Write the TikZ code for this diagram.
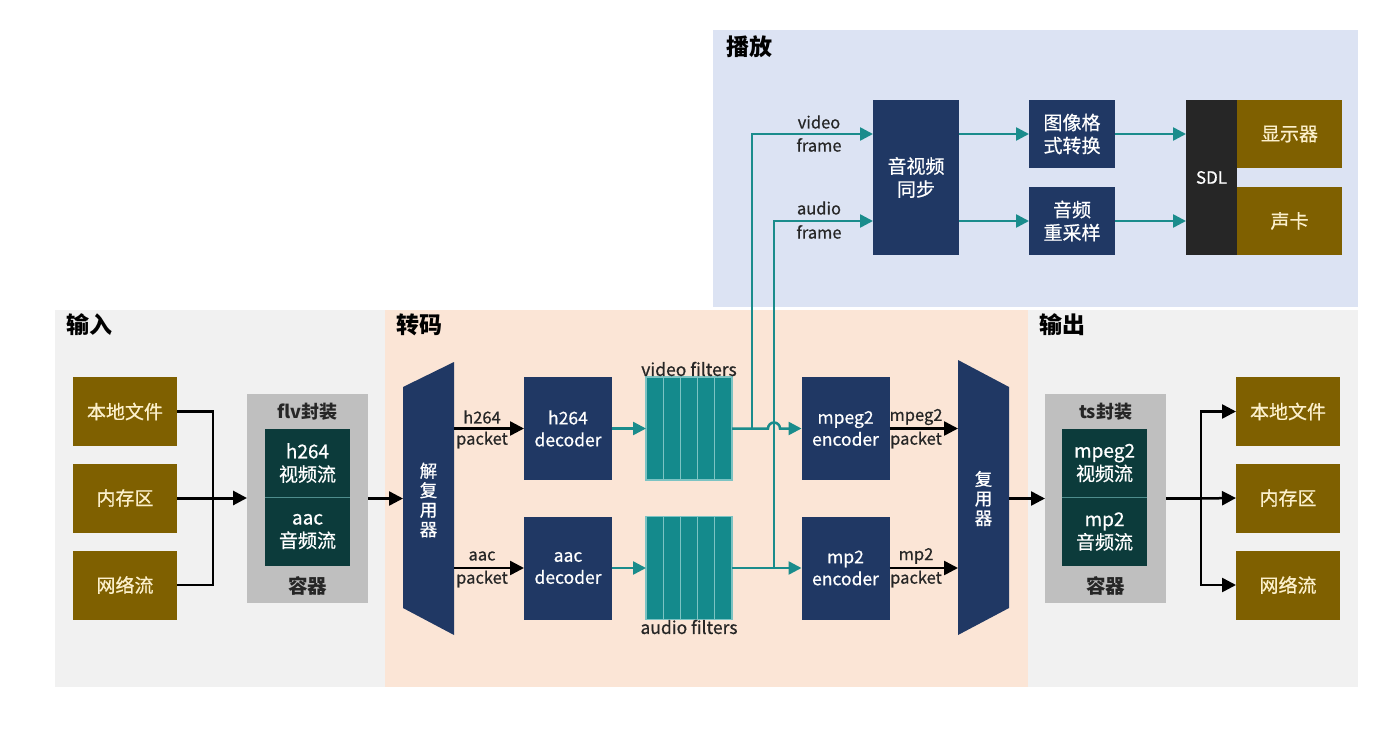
\documentclass[tikz,border=0pt]{standalone}
\usepackage{fontspec}
\setmainfont{Noto Sans CJK SC}
\newfontfamily\medfont{Noto Sans CJK SC}[FakeBold=0.6]
\usetikzlibrary{arrows.meta}
\definecolor{navyc}{HTML}{203864}
\definecolor{brownc}{HTML}{7F6000}
\definecolor{creamc}{HTML}{FCF0CC}
\definecolor{tealc}{HTML}{148A8C}
\definecolor{tealline}{HTML}{1A8C8C}
\definecolor{sepc}{HTML}{7CC3C3}
\definecolor{darkteal}{HTML}{0C3B3B}
\definecolor{grayc}{HTML}{BFBFBF}
\definecolor{regiongray}{HTML}{F1F1F1}
\definecolor{peachc}{HTML}{FBE5D6}
\definecolor{bluec}{HTML}{DCE3F3}
\definecolor{sdlc}{HTML}{262626}
\begin{document}
\begin{tikzpicture}[x=1pt,y=-1pt,
  box/.style={inner sep=0pt, outer sep=0pt, align=center, font=\medfont\fontsize{19}{23}\selectfont},
  brownbox/.style={box, fill=brownc, text=creamc, minimum width=104pt, minimum height=69pt},
  navybox/.style={box, fill=navyc, text=white},
  dec/.style={navybox, minimum width=88pt, minimum height=103pt, font=\medfont\fontsize{17.5}{22}\selectfont},
  cont/.style={inner sep=0pt, outer sep=0pt, fill=grayc, minimum width=121pt, minimum height=209pt},
  inner/.style={box, fill=darkteal, text=white, minimum width=85pt, minimum height=68pt, font=\medfont\fontsize{19}{23}\selectfont},
  strip/.style={inner sep=0pt, outer sep=0pt, fill=tealc, draw=sepc, line width=1.3pt, minimum width=17.2pt, minimum height=103pt},
  title/.style={anchor=west, inner sep=0pt, font=\fontsize{23}{27}\selectfont\bfseries},
  lbl/.style={inner sep=0pt, font=\medfont\fontsize{16.5}{19}\selectfont, text=black!85},
  ctitle/.style={inner sep=0pt, font=\fontsize{18}{21}\selectfont\bfseries, text=black!85},
  bline/.style={draw=black, line width=2.5pt},
  blk/.style={bline, -{Triangle[length=14pt,width=14pt]}},
  tline/.style={draw=tealline, line width=2.5pt},
  tla/.style={tline, -{Triangle[length=13pt,width=13pt]}}
]
\useasboundingbox (0,0) rectangle (1380,728);
\fill[white] (0,0) rectangle (1380,728);
% regions
\fill[bluec] (713,30) rectangle (1358,307);
\fill[regiongray] (55,310) rectangle (385,687);
\fill[peachc] (385,310) rectangle (1028,687);
\fill[regiongray] (1028,310) rectangle (1358,687);
\node[title] (tin) at (66,325) {输入};
\node[title] (ttr) at (396,325) {转码};
\node[title] (tplay) at (726,47) {播放};
\node[title] (tout) at (1039,325) {输出};

% input boxes
\node[brownbox] (i1) at (125,411.5) {本地文件};
\node[brownbox] (i2) at (125,498) {内存区};
\node[brownbox] (i3) at (125,585) {网络流};
% flv container
\node[cont] (flv) at (307.5,498.5) {};
\node[ctitle] (flvt) at (307.5,412) {flv封装};
\node[inner] (flvv) at (307.5,463) {h264\\视频流};
\node[inner] (flva) at (307.5,531.5) {aac\\音频流};
\draw[sepc!60!darkteal, line width=0.8pt] (flvv.south west) -- (flvv.south east);
\node[ctitle, font=\fontsize{19.5}{22}\selectfont\bfseries] (flvc) at (307.5,586) {容器};
\coordinate (ij) at (213,498);
\draw[bline] (i1.east) -| (ij);
\draw[bline] (i3.east) -| (ij);
\draw[blk, line width=3pt] (i2.east) -- (flv.west |- i2.east);

% demux
\fill[navyc] (403,387) -- (454,362) -- (454,635) -- (403,608) -- cycle;
\node[inner sep=0pt, text=white, align=center, font=\medfont\fontsize{17.5}{19.5}\selectfont] (demux) at (428.5,500) {解\\复\\用\\器};
\coordinate (dmL) at (403,498.5);
\coordinate (dmR1) at (454,428.5);
\coordinate (dmR2) at (454,568);
\draw[blk] (flv.east |- dmL) -- (dmL);

% decoders
\node[dec] (dec1) at (568,428.5) {h264\\decoder};
\node[dec] (dec2) at (568,568) {aac\\decoder};
\draw[blk] (dmR1) -- (dec1.west);
\draw[blk] (dmR2) -- (dec2.west);
\node[lbl] (l1a) at (482,417) {h264};
\node[lbl] (l1b) at (482,440) {packet};
\node[lbl] (l2a) at (482,556) {aac};
\node[lbl] (l2b) at (482,579) {packet};

% filters
\foreach \i in {0,...,4}{
  \node[strip] (vf\i) at ({646+17.2*\i+8.6},428.5) {};
  \node[strip] (af\i) at ({646+17.2*\i+8.6},568) {};
}
\node[lbl, font=\medfont\fontsize{17.5}{20}\selectfont] (vft) at (689,369) {video filters};
\node[lbl, font=\medfont\fontsize{17.5}{20}\selectfont] (aft) at (689,627) {audio filters};
\draw[tla] (dec1.east) -- (vf0.west);
\draw[tla] (dec2.east) -- (af0.west);

% encoders
\node[dec] (enc1) at (845.5,428.5) {mpeg2\\encoder};
\node[dec] (enc2) at (845.5,568) {mp2\\encoder};
\coordinate (hopL) at (768,428.5);
\draw[tla] (vf4.east) -- (hopL) arc[start angle=180,end angle=0,radius=6pt] -- (enc1.west);
\draw[tla] (af4.east) -- (enc2.west);

% playback
\node[navybox, minimum width=86pt, minimum height=155pt] (sync) at (916,177.5) {音视频\\同步};
\node[navybox, minimum width=86pt, minimum height=68pt] (conv) at (1072,134) {图像格\\式转换};
\node[navybox, minimum width=86pt, minimum height=68pt] (resamp) at (1072,221) {音频\\重采样};
\node[box, fill=sdlc, text=white, minimum width=51pt, minimum height=155pt, font=\medfont\fontsize{17}{20}\selectfont] (sdl) at (1211.5,177.5) {SDL};
\node[brownbox, minimum width=105pt, minimum height=68pt] (disp) at (1289.5,134) {显示器};
\node[brownbox, minimum width=105pt, minimum height=68pt] (card) at (1289.5,221) {声卡};
\coordinate (vb) at (752,428.5);
\coordinate (ab) at (774,568);
\draw[tla] (vb) |- (sync.west |- conv.west);
\draw[tla] (ab) |- (sync.west |- resamp.west);
\node[lbl] (vfa) at (819,122) {video};
\node[lbl] (vfb) at (819,145) {frame};
\node[lbl] (afa) at (819,208) {audio};
\node[lbl] (afb) at (819,232) {frame};
\draw[tla] (sync.east |- conv.west) -- (conv.west);
\draw[tla] (sync.east |- resamp.west) -- (resamp.west);
\draw[tla] (conv.east) -- (conv.east -| sdl.west);
\draw[tla] (resamp.east) -- (resamp.east -| sdl.west);

% mux
\fill[navyc] (958,360) -- (1009,387) -- (1009,608) -- (958,635) -- cycle;
\node[inner sep=0pt, text=white, align=center, font=\medfont\fontsize{17.5}{19.5}\selectfont] (mux) at (983.5,498.5) {复\\用\\器};
\coordinate (mxL1) at (958,428.5);
\coordinate (mxL2) at (958,568);
\coordinate (mxR) at (1009,498.5);
\draw[blk] (enc1.east) -- (mxL1);
\draw[blk] (enc2.east) -- (mxL2);
\node[lbl] (l3a) at (916,417) {mpeg2};
\node[lbl] (l3b) at (916,440) {packet};
\node[lbl] (l4a) at (916,556) {mp2};
\node[lbl] (l4b) at (916,579) {packet};

% ts container
\node[cont] (ts) at (1105.5,498.5) {};
\node[ctitle] (tst) at (1105.5,412) {ts封装};
\node[inner] (tsv) at (1104.5,463) {mpeg2\\视频流};
\node[inner] (tsa) at (1104.5,531.5) {mp2\\音频流};
\draw[sepc!60!darkteal, line width=0.8pt] (tsv.south west) -- (tsv.south east);
\node[ctitle, font=\fontsize{19.5}{22}\selectfont\bfseries] (tsc) at (1105.5,586) {容器};
\draw[blk] (mxR) -- (ts.west |- mxR);

% outputs
\node[brownbox] (o1) at (1288,411.5) {本地文件};
\node[brownbox] (o2) at (1288,498) {内存区};
\node[brownbox] (o3) at (1288,585) {网络流};
\coordinate (oj) at (1201,498.5);
\draw[bline, line width=3pt] (ts.east |- oj) -- (oj);
\draw[blk] (oj) |- (o1.west);
\draw[blk] (oj) -- (o2.west);
\draw[blk] (oj) |- (o3.west);
\end{tikzpicture}
\end{document}
